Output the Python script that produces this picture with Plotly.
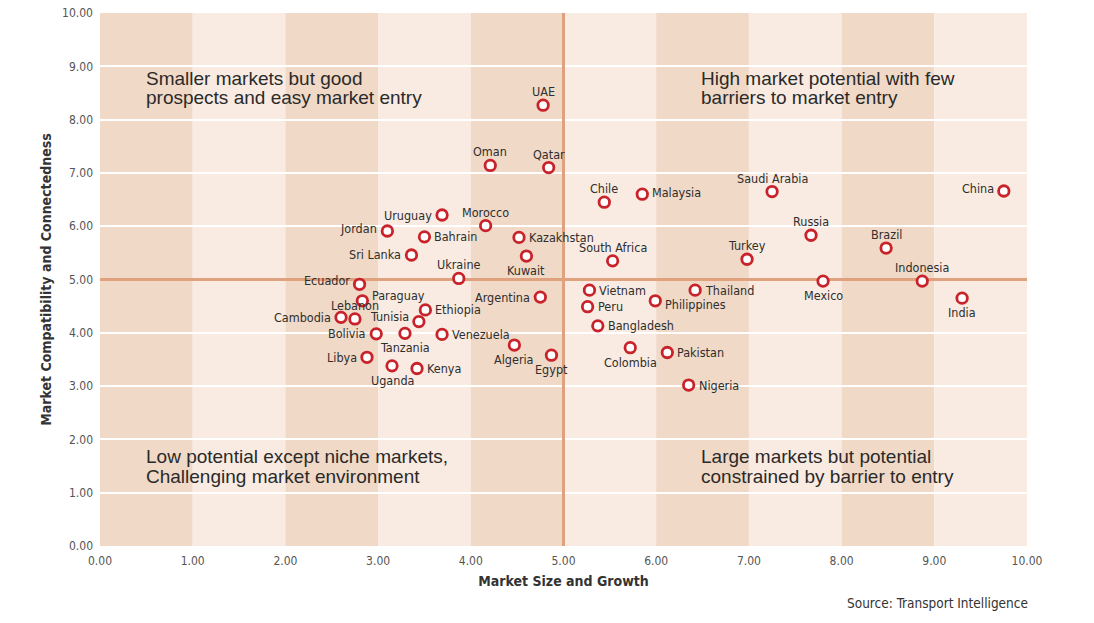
import plotly.graph_objects as go

countries = ["UAE", "Oman", "Qatar", "Chile", "Malaysia", "Saudi Arabia", "China",
             "Uruguay", "Morocco", "Jordan", "Bahrain", "Kazakhstan", "Russia", "Brazil",
             "Sri Lanka", "Kuwait", "South Africa", "Turkey", "Ukraine", "Ecuador",
             "Mexico", "Indonesia", "Vietnam", "Thailand", "Paraguay", "Argentina",
             "Philippines", "India", "Peru", "Ethiopia", "Cambodia", "Lebanon", "Tunisia",
             "Bangladesh", "Bolivia", "Tanzania", "Venezuela", "Algeria", "Colombia",
             "Pakistan", "Egypt", "Libya", "Uganda", "Kenya", "Nigeria"]
market_size = [4.78, 4.21, 4.84, 5.44, 5.85, 7.25, 9.75,
               3.69, 4.16, 3.10, 3.50, 4.52, 7.67, 8.48,
               3.36, 4.60, 5.53, 6.98, 3.87, 2.80,
               7.80, 8.87, 5.28, 6.42, 2.83, 4.75,
               5.99, 9.30, 5.26, 3.51, 2.60, 2.75, 3.44,
               5.37, 2.98, 3.29, 3.69, 4.47, 5.72,
               6.12, 4.87, 2.88, 3.15, 3.42, 6.35]
compatibility = [8.27, 7.14, 7.10, 6.45, 6.60, 6.65, 6.66,
                 6.21, 6.01, 5.91, 5.80, 5.79, 5.83, 5.59,
                 5.46, 5.44, 5.35, 5.38, 5.02, 4.91,
                 4.97, 4.97, 4.80, 4.80, 4.60, 4.67,
                 4.60, 4.65, 4.49, 4.43, 4.29, 4.26, 4.21,
                 4.13, 3.98, 3.99, 3.97, 3.77, 3.72,
                 3.63, 3.58, 3.54, 3.38, 3.33, 3.02]
label_side = ["top", "top", "top", "top", "right", "top", "left",
              "left", "top", "left", "right", "right", "top", "top",
              "left", "bottom", "top", "top", "top", "left",
              "bottom", "top", "right", "right", "right", "left",
              "right", "bottom", "right", "right", "left", "top", "left",
              "right", "left", "bottom", "right", "bottom", "bottom",
              "right", "bottom", "left", "bottom", "right", "right"]
# small vertical nudges of some labels (pixels, up positive)
label_nudge = {"Paraguay": 5, "Philippines": -4, "Ecuador": 4, "Tunisia": 5,
               "Jordan": 3, "Malaysia": 2, "China": 3}

tick_vals = [0, 1, 2, 3, 4, 5, 6, 7, 8, 9, 10]
tick_text = ["0.00", "1.00", "2.00", "3.00", "4.00", "5.00", "6.00", "7.00", "8.00", "9.00", "10.00"]
band_edges = [0, 1, 2, 3, 4, 5, 6, 7, 8, 9, 10]
midpoint = 5

# quadrant captions, one entry per line: (x, y, text)
quadrant_lines = [
    (0.47, 8.78, "Smaller markets but good"),
    (0.47, 8.42, "prospects and easy market entry"),
    (6.46, 8.78, "High market potential with few"),
    (6.46, 8.42, "barriers to market entry"),
    (0.47, 1.67, "Low potential except niche markets,"),
    (0.47, 1.31, "Challenging market environment"),
    (6.46, 1.67, "Large markets but potential"),
    (6.46, 1.31, "constrained by barrier to entry"),
]

DARK = "#F0D9C7"
LIGHT = "#F9EBE1"
LINE = "#E0A27E"
RED = "#C8232B"
NARROW = "DejaVu Sans Condensed, Liberation Sans Narrow, sans-serif"
WIDE = "Liberation Sans, Arial, sans-serif"

fig = go.Figure()

shapes = []
for i in range(len(band_edges) - 1):
    shapes.append(dict(type="rect", xref="x", yref="y", x0=band_edges[i], x1=band_edges[i + 1],
                       y0=0, y1=10, fillcolor=DARK if i % 2 == 0 else LIGHT,
                       line=dict(width=0), layer="below"))
shapes.append(dict(type="line", xref="x", yref="y", x0=midpoint, x1=midpoint, y0=0, y1=10,
                   line=dict(color=LINE, width=3), layer="between"))
shapes.append(dict(type="line", xref="x", yref="y", x0=0, x1=10, y0=midpoint, y1=midpoint,
                   line=dict(color=LINE, width=3), layer="between"))

fig.add_trace(go.Scatter(
    x=market_size, y=compatibility, text=countries, mode="markers",
    marker=dict(symbol="circle", size=10.5, color="white", line=dict(color=RED, width=2.8)),
    cliponaxis=False, hoverinfo="text", showlegend=False,
))

side_style = {
    "right": dict(xanchor="left", yanchor="middle", xshift=9, yshift=0),
    "left": dict(xanchor="right", yanchor="middle", xshift=-9, yshift=0),
    "top": dict(xanchor="center", yanchor="bottom", xshift=0, yshift=5),
    "bottom": dict(xanchor="center", yanchor="top", xshift=0, yshift=-6),
}

annotations = []
for cx, cy, name, side in zip(market_size, compatibility, countries, label_side):
    st = dict(side_style[side])
    st["yshift"] = st["yshift"] + label_nudge.get(name, 0)
    annotations.append(dict(x=cx, y=cy, xref="x", yref="y", text=name, showarrow=False,
                            borderpad=0,
                            font=dict(family=NARROW, size=12.5, color="#2e2e2e"), **st))
for qx, qy, qt in quadrant_lines:
    annotations.append(dict(x=qx, y=qy, xref="x", yref="y", text=qt, showarrow=False,
                            xanchor="left", yanchor="middle", align="left",
                            font=dict(family=WIDE, size=19, color="#2a2a2a")))
annotations.append(dict(x=1.003, y=-0.107, xref="paper", yref="paper",
                        text="Source: Transport Intelligence", showarrow=False,
                        xanchor="right", yanchor="middle",
                        font=dict(family=NARROW, size=13.5, color="#333333")))

fig.update_layout(
    width=1094, height=623,
    margin=dict(l=100, r=67, t=13, b=77),
    paper_bgcolor="white", plot_bgcolor="white",
    shapes=shapes, annotations=annotations,
    xaxis=dict(range=[0, 10], tickvals=tick_vals, ticktext=tick_text, showgrid=False,
               zeroline=False, showline=False, ticks="", automargin=False,
               ticklabelstandoff=6,
               tickfont=dict(family=NARROW, size=12, color="#555555"),
               title=dict(text="<b>Market Size and Growth</b>", standoff=9,
                          font=dict(family=NARROW, size=14, color="#333333"))),
    yaxis=dict(range=[0, 10], tickvals=tick_vals, ticktext=tick_text, showgrid=True,
               gridcolor="white", gridwidth=2, zeroline=False, showline=False, ticks="",
               automargin=False, ticklabelstandoff=6,
               tickfont=dict(family=NARROW, size=12, color="#555555"),
               title=dict(text="<b>Market Compatibility and Connectedness</b>", standoff=7,
                          font=dict(family=NARROW, size=14, color="#333333"))),
)

fig.write_html("out.html", config={"displayModeBar": False},
               post_script="document.body.style.margin='0';")
